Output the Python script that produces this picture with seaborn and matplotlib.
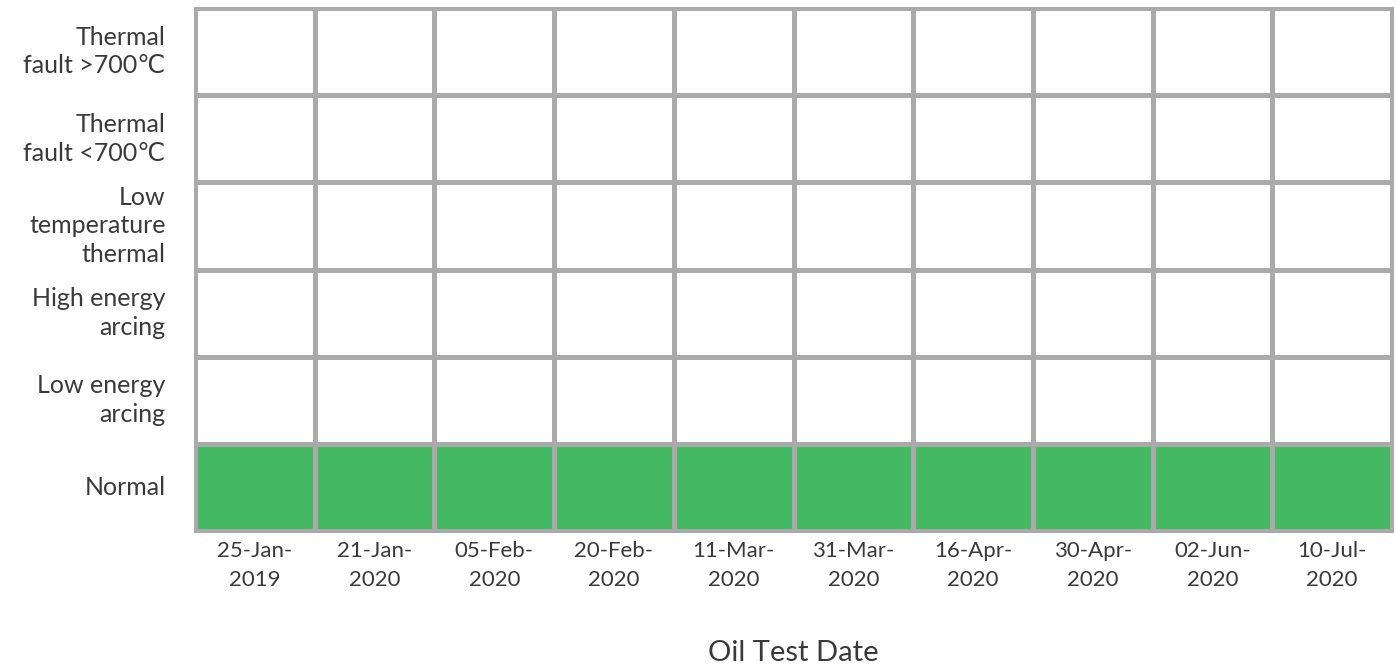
import matplotlib
matplotlib.use("Agg")
import matplotlib.pyplot as plt
import seaborn as sns
import numpy as np
import pandas as pd
from matplotlib.colors import ListedColormap

dates = ["25-Jan-2019", "21-Jan-2020", "05-Feb-2020", "20-Feb-2020", "11-Mar-2020",
         "31-Mar-2020", "16-Apr-2020", "30-Apr-2020", "02-Jun-2020", "10-Jul-2020"]
conditions = ["Thermal\nfault >700\u2103", "Thermal\nfault <700\u2103", "Low\ntemperature\nthermal",
              "High energy\narcing", "Low energy\narcing", "Normal"]
diagnosis = ["Normal"] * 10

sns.set_theme(style="white")
plt.rcParams['font.family'] = ['Lato', 'DejaVu Sans']

mat = pd.DataFrame(0, index=conditions, columns=dates)
for d, c in zip(dates, diagnosis):
    idx = [k for k in conditions if k.startswith(c)][0]
    mat.loc[idx, d] = 1

fig = plt.figure(figsize=(13.96, 6.64), dpi=100)
ax = fig.add_axes([195/1396, 1-531/664, (1392-195)/1396, (531-8)/664])
cmap = ListedColormap(["#ffffff", "#45b864"])
sns.heatmap(mat, ax=ax, cmap=cmap, vmin=0, vmax=1, cbar=False,
            linewidths=2.2, linecolor="#aaaaaa")
for s in ax.spines.values():
    s.set_visible(True)
    s.set_color("#aaaaaa")
    s.set_linewidth(2.2)

txt = "#3a3a3a"
ax.set_xticks(np.arange(len(dates)) + 0.5)
ax.set_xticklabels([d[:7] + "\n" + d[7:] for d in dates], rotation=0,
                   fontsize=16, color=txt, linespacing=1.55)
ax.set_yticks(np.arange(len(conditions)) + 0.5)
ax.set_yticklabels(conditions, rotation=0, fontsize=18, color=txt,
                   ha="right", linespacing=1.3)
ax.tick_params(axis="x", length=0, pad=7)
ax.tick_params(axis="y", length=0, pad=21)
ax.set_xlabel("Oil Test Date", fontsize=21, color=txt, labelpad=36)
ax.set_ylabel("")

fig.savefig("out.png", dpi=100)
